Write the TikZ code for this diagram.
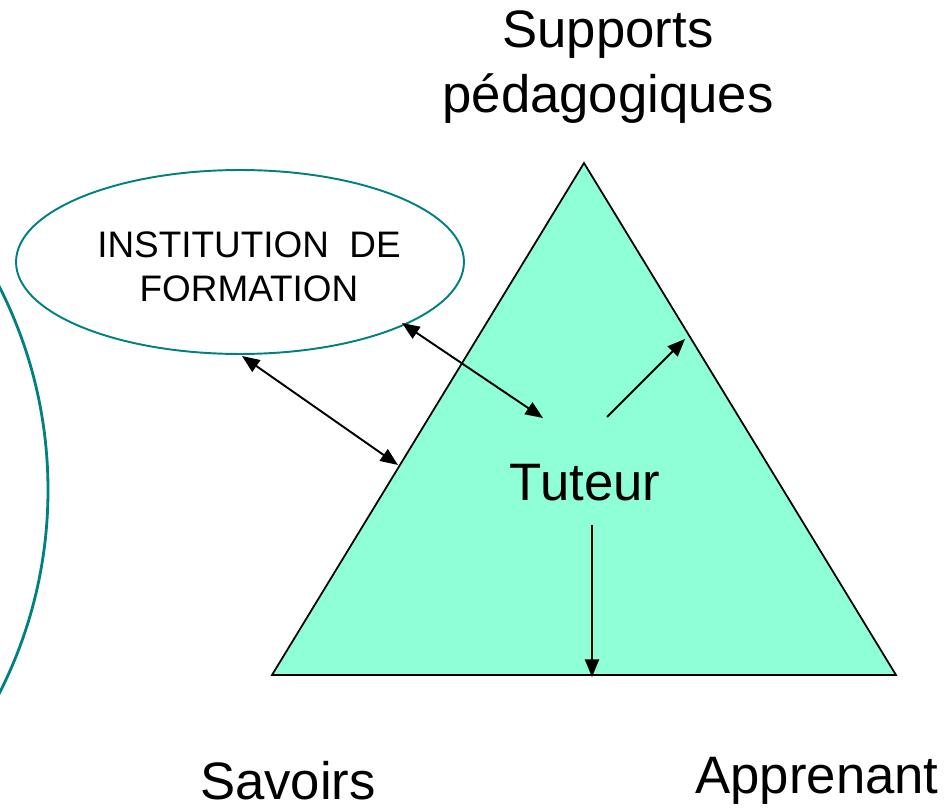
\documentclass[tikz,border=0pt]{standalone}
\usepackage{fontspec}
\setmainfont{Liberation Sans}
\usetikzlibrary{arrows.meta,shapes.geometric}

\definecolor{mint}{RGB}{142,255,214}
\definecolor{tealline}{RGB}{0,128,128}

\tikzset{
  big/.style={font=\fontsize{30}{37}\selectfont, align=center},
  small/.style={font=\fontsize{21}{25}\selectfont, align=center},
  link/.style={line width=1.1pt, -{Triangle[length=10pt,width=8pt]}},
  dlink/.style={link, {Triangle[length=10pt,width=8pt]}-{Triangle[length=10pt,width=8pt]}}
}

\begin{document}
\begin{tikzpicture}[x=0.02cm,y=-0.02cm]
  \useasboundingbox (0,0) rectangle (951,811);

  % big arc on the left
  \begin{scope}
    \clip (0,0) rectangle (951,811);
    \draw[tealline, line width=1.6pt] (-415,490) ellipse (463 and 455);
  \end{scope}

  % triangle
  \coordinate (top) at (584,163);
  \coordinate (left) at (272,675);
  \coordinate (right) at (896,675);
  \draw[fill=mint, line width=1pt] (top) -- (left) -- (right) -- cycle;

  % institution
  \node[ellipse, draw=tealline, line width=1.1pt, fill=white,
        minimum width=8.96cm, minimum height=3.68cm] (inst) at (240,262) {};
  \node[small] (instlbl) at (249,267) {INSTITUTION\ \ DE\\FORMATION};

  \node[big] (supports) at (608,67) {Supports\\p\'edagogiques};
  \node[big] (tuteur) at (585,483) {Tuteur};
  \node[big] (savoirs) at (288,781) {Savoirs};
  \node[big] (apprenant) at (817,781) {Apprenant};

  \coordinate (a1) at (242,356);
  \coordinate (a2) at (398,465);
  \coordinate (b1) at (402,323);
  \coordinate (b2) at (543,418);
  \coordinate (c1) at (607,417);
  \coordinate (c2) at (685,339);
  \coordinate (d1) at (592,525);
  \coordinate (d2) at (592,677);

  \draw[dlink] (a1) -- (a2);
  \draw[dlink] (b1) -- (b2);
  \draw[link] (c1) -- (c2);
  \draw[link] (d1) -- (d2);
\end{tikzpicture}
\end{document}
